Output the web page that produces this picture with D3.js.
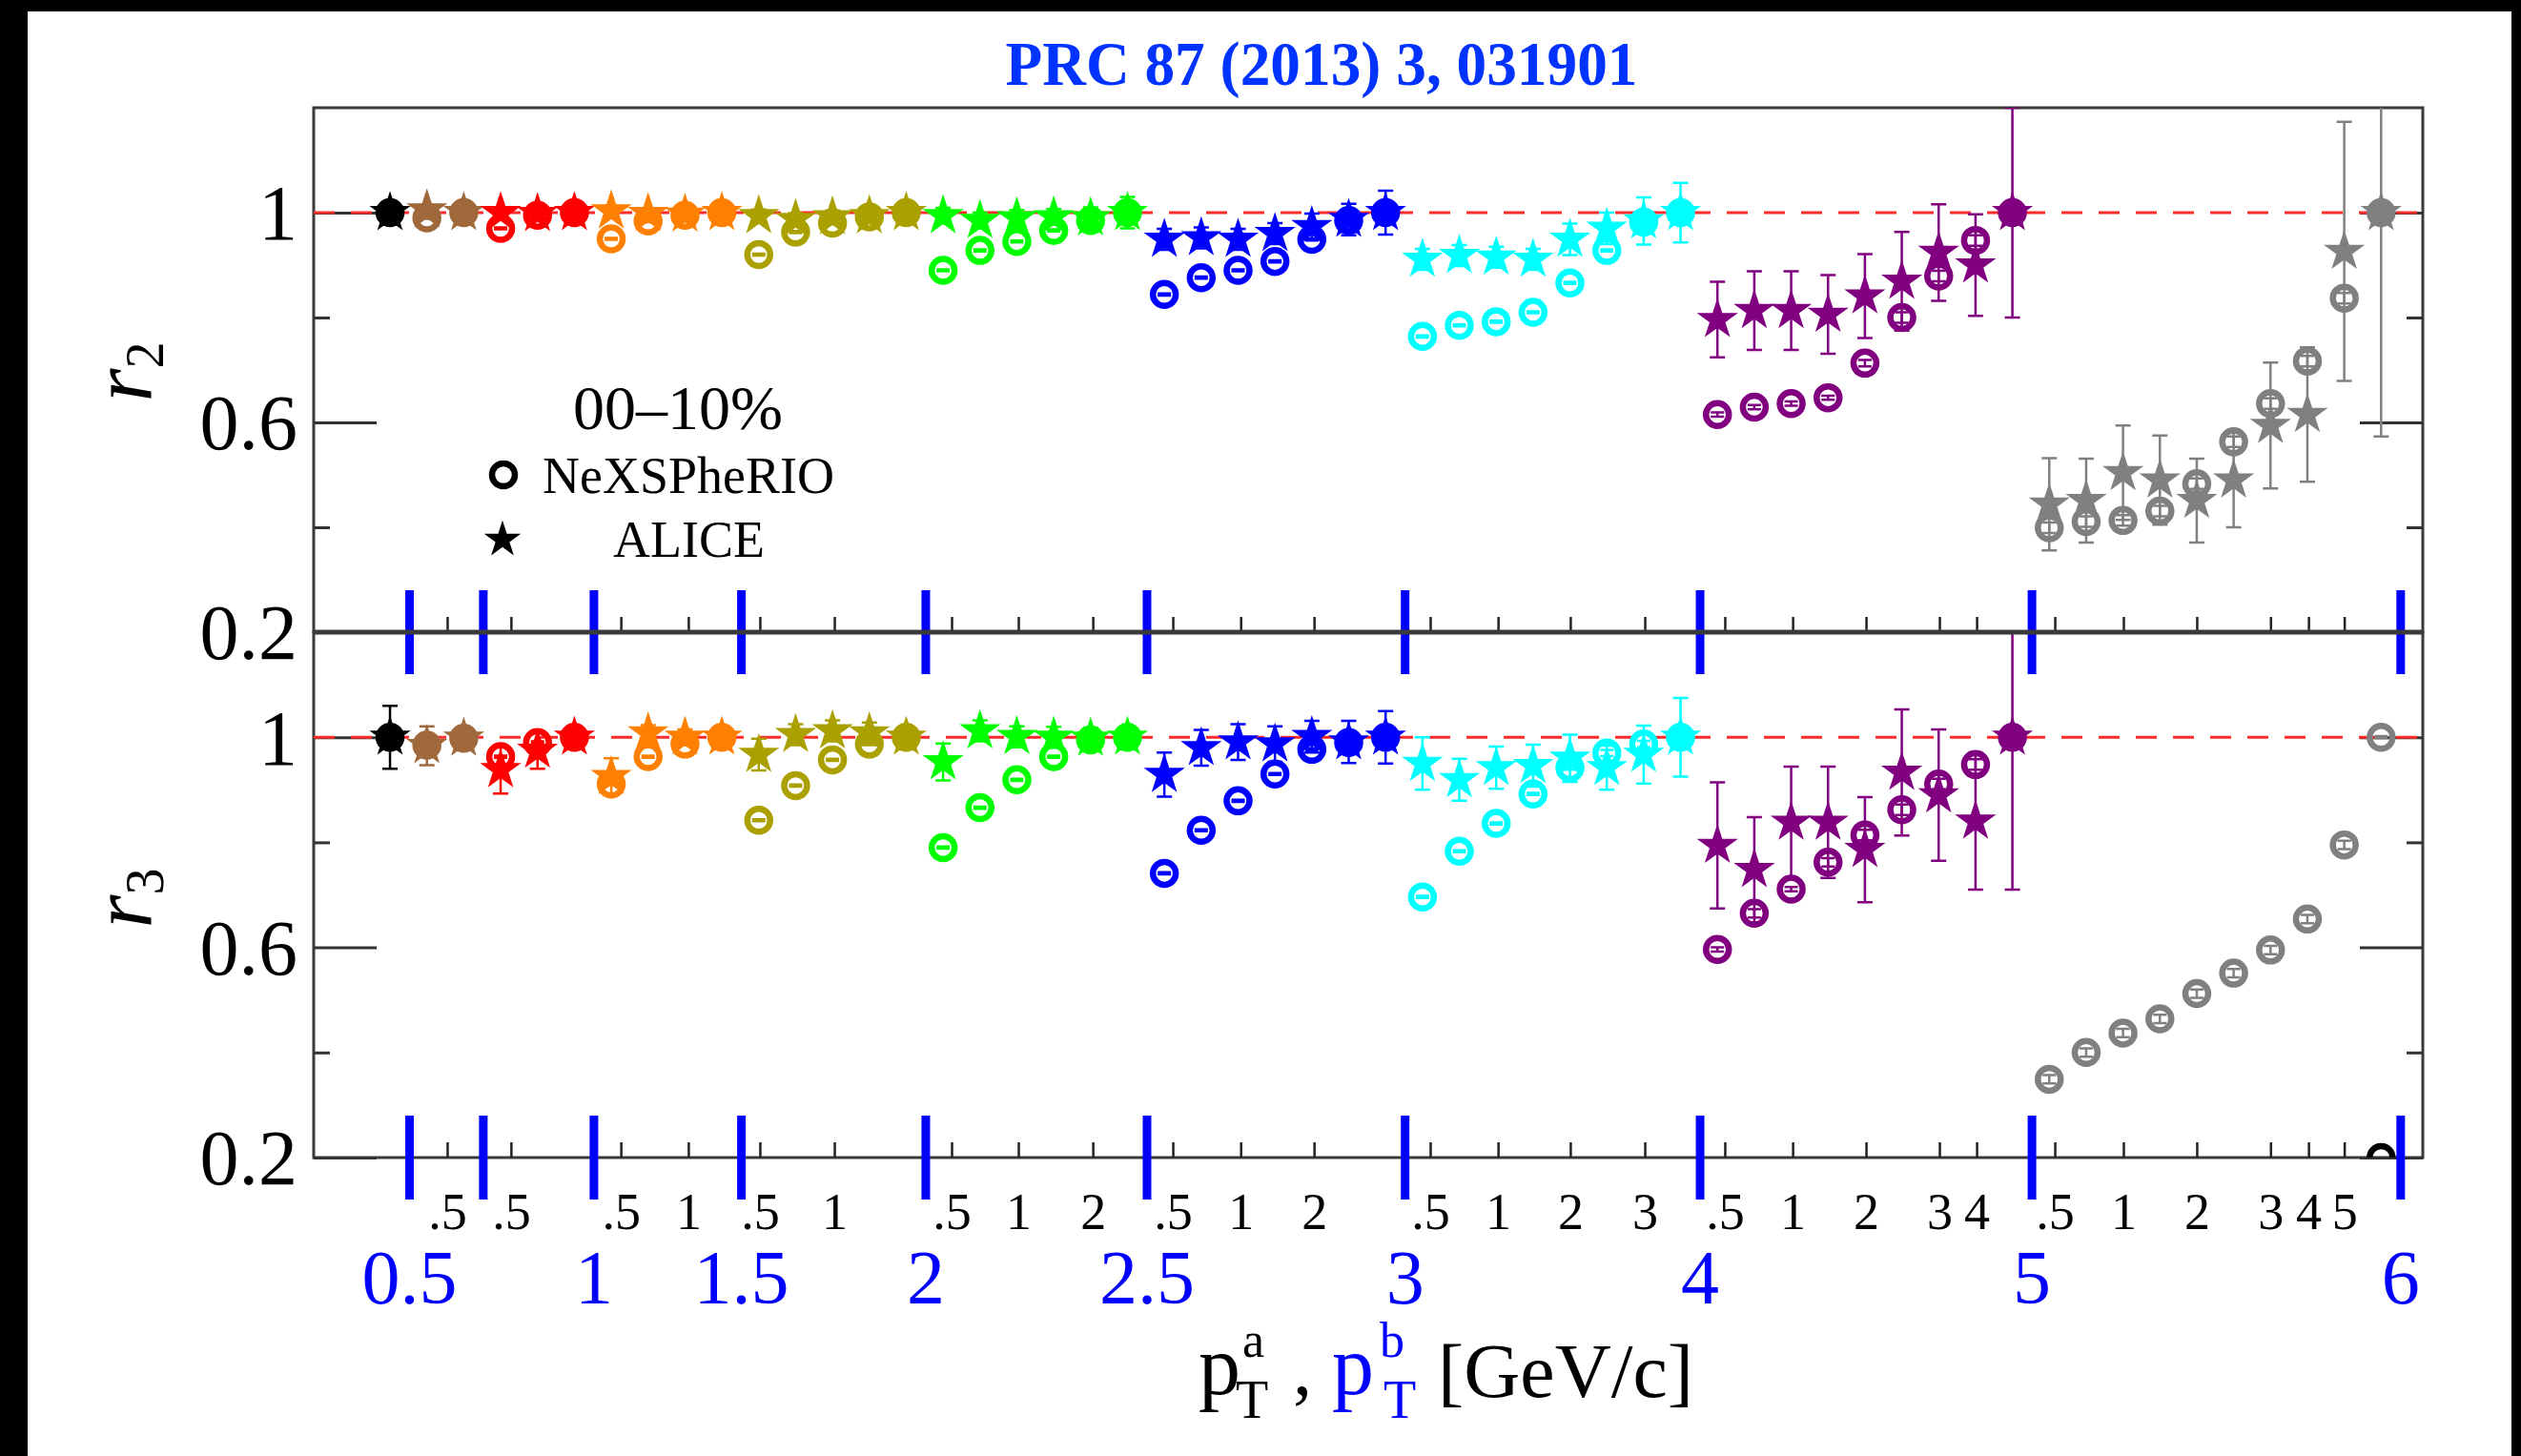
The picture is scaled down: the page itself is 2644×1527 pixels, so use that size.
<!DOCTYPE html>
<html>
<head>
<meta charset="utf-8">
<script src="https://cdn.jsdelivr.net/npm/d3@7"></script>
<style>
  html, body { margin: 0; padding: 0; background: #fff; }
  svg { display: block; }
</style>
</head>
<body>
<div id="chart"></div>
<script>
// one colour group per p_T^b bin, group g holds g+1 points (the p_T^a bins up to p_T^b)
const groupColors = ["#000000", "#a0693c", "#ff0000", "#ff8000", "#aaa000", "#00ff00", "#0000ff", "#00ffff", "#800080", "#808080"];
const groupLabels = ["0.5", "", "1", "1.5", "2", "2.5", "3", "4", "5", "6"];

// r2 : NeXSPheRIO (open circles)
const r2Model = [1.0,
  0.99, 1.0,
  0.97, 0.995, 1.0,
  0.95, 0.984, 0.995, 1.0,
  0.92, 0.963, 0.98, 0.992, 1.0,
  0.89, 0.928, 0.945, 0.966, 0.985, 1.0,
  0.844, 0.876, 0.89, 0.907, 0.949, 0.985, 1.0,
  0.764, 0.785, 0.792, 0.81, 0.866, 0.928, 0.982, 1.0,
  0.615, 0.629, 0.636, 0.647, 0.713, 0.80, 0.879, 0.947, 1.0,
  0.399, 0.411, 0.413, 0.431, 0.483, 0.563, 0.636, 0.717, 0.837, 1.0];
const r2ModelErr = [0.002,
  0.002, 0.002,
  0.002, 0.002, 0.002,
  0.002, 0.002, 0.002, 0.002,
  0.002, 0.002, 0.002, 0.002, 0.002,
  0.002, 0.002, 0.002, 0.002, 0.002, 0.002,
  0.002, 0.002, 0.002, 0.002, 0.002, 0.002, 0.002,
  0.002, 0.002, 0.002, 0.002, 0.002, 0.002, 0.002, 0.002,
  0.004, 0.004, 0.004, 0.004, 0.006, 0.01, 0.01, 0.01, 0.01,
  0.01, 0.01, 0.01, 0.01, 0.01, 0.01, 0.01, 0.01, 0.01, 0.01];

// r2 : ALICE (stars)
const r2Alice = [1.0,
  1.005, 1.0,
  1.0, 0.998, 1.0,
  1.003, 0.998, 0.997, 1.0,
  0.994, 0.987, 0.992, 0.994, 1.0,
  0.994, 0.985, 0.99, 0.992, 0.99, 1.0,
  0.949, 0.952, 0.949, 0.96, 0.973, 0.987, 1.0,
  0.911, 0.918, 0.915, 0.911, 0.949, 0.97, 0.984, 1.0,
  0.796, 0.813, 0.813, 0.806, 0.841, 0.869, 0.924, 0.90, 1.0,
  0.444, 0.451, 0.504, 0.49, 0.451, 0.49, 0.594, 0.615, 0.926, 1.0];
const r2AliceErr = [0.01,
  0.01, 0.01,
  0.01, 0.01, 0.01,
  0.01, 0.01, 0.01, 0.01,
  0.012, 0.012, 0.012, 0.012, 0.015,
  0.015, 0.015, 0.015, 0.015, 0.02, 0.03,
  0.02, 0.02, 0.02, 0.02, 0.025, 0.03, 0.042,
  0.02, 0.02, 0.02, 0.02, 0.03, 0.03, 0.045, 0.057,
  0.072, 0.075, 0.075, 0.075, 0.08, 0.094, 0.092, 0.097, 0.2,
  0.088, 0.08, 0.09, 0.085, 0.08, 0.09, 0.12, 0.128, 0.247, 0.427];

// r3 : NeXSPheRIO
const r3Model = [1.0,
  0.985, 0.998,
  0.963, 0.99, 1.0,
  0.911, 0.963, 0.987, 1.0,
  0.842, 0.908, 0.957, 0.987, 1.0,
  0.79, 0.866, 0.919, 0.963, 0.995, 1.0,
  0.741, 0.823, 0.879, 0.93, 0.977, 0.99, 1.0,
  0.696, 0.783, 0.836, 0.892, 0.942, 0.97, 0.987, 1.0,
  0.596, 0.665, 0.711, 0.762, 0.814, 0.862, 0.911, 0.948, 1.0,
  0.349, 0.40, 0.437, 0.464, 0.512, 0.551, 0.595, 0.654, 0.795, 1.0];
const r3ModelErr = [0.002,
  0.002, 0.002,
  0.002, 0.002, 0.002,
  0.002, 0.002, 0.002, 0.002,
  0.002, 0.002, 0.002, 0.002, 0.002,
  0.002, 0.002, 0.002, 0.002, 0.002, 0.002,
  0.002, 0.002, 0.002, 0.002, 0.002, 0.002, 0.002,
  0.002, 0.002, 0.002, 0.002, 0.004, 0.006, 0.006, 0.002,
  0.004, 0.008, 0.004, 0.008, 0.01, 0.01, 0.01, 0.01, 0.002,
  0.008, 0.008, 0.008, 0.008, 0.008, 0.008, 0.008, 0.008, 0.008, 0.002];

// r3 : ALICE (no data in the last bin)
const r3Alice = [1.0,
  0.984, 0.998,
  0.938, 0.975, 1.0,
  0.925, 1.008, 1.0, 1.0,
  0.967, 1.005, 1.012, 1.008, 1.0,
  0.953, 1.012, 1.001, 1.0, 0.998, 1.0,
  0.929, 0.98, 0.991, 0.987, 1.001, 0.991, 1.0,
  0.95, 0.919, 0.942, 0.946, 0.96, 0.942, 0.967, 1.0,
  0.794, 0.748, 0.838, 0.838, 0.786, 0.933, 0.89, 0.84, 1.0,
  null, null, null, null, null, null, null, null, null, null];
const r3AliceErr = [0.06,
  0.037, 0.017,
  0.045, 0.035, 0.01,
  0.035, 0.015, 0.015, 0.01,
  0.03, 0.02, 0.02, 0.02, 0.015,
  0.035, 0.02, 0.02, 0.02, 0.02, 0.02,
  0.042, 0.034, 0.034, 0.034, 0.03, 0.04, 0.05,
  0.05, 0.04, 0.04, 0.04, 0.045, 0.042, 0.055, 0.075,
  0.12, 0.1, 0.106, 0.106, 0.1, 0.12, 0.125, 0.13, 0.29,
  null, null, null, null, null, null, null, null, null, null];

// stray black marker sitting on the lower edge of the r3 panel
const r3StrayIdx = [54];
const r3StrayVal = [0.2];

// p_T^a ticks, in point-index units, with their labels
const aTickPos = [1.55, 3.28, 6.26, 8.09, 10.03, 12.05, 15.23, 17.04, 19.06, 21.23, 23.07, 25.06,
  28.21, 30.05, 32.01, 34.03, 36.2, 38.04, 40.03, 42.02, 43.03, 45.15, 47.01, 49.0, 51.0, 52.03, 53.0];
const aTickLabels = [".5", ".5", ".5", "1", ".5", "1", ".5", "1", "2", ".5", "1", "2",
  ".5", "1", "2", "3", ".5", "1", "2", "3", "4", ".5", "1", "2", "3", "4", "5"];

const yTicks = [0.2, 0.6, 1];
const yMinorTicks = [0.4, 0.8];

const W = 2644, H = 1527;
const left = 329, right = 2541;
const serif = "'Liberation Serif', 'Times New Roman', serif";

// flatten the groups into one index axis
const points = [];
groupColors.forEach((c, g) => {
  for (let k = 0; k <= g; k++) points.push({ i: points.length, g });
});
const groupEnds = groupColors.map((c, g) => d3.max(points.filter(p => p.g === g), p => p.i));

const x = d3.scaleLinear().domain([-2.07, 55.13]).range([left, right]);

const svg = d3.select("#chart").append("svg")
  .attr("width", W).attr("height", H)
  .attr("viewBox", [0, 0, W, H])
  .style("font-family", serif);

svg.append("rect").attr("width", W).attr("height", H).attr("fill", "#fff");
// black page edges
svg.append("rect").attr("x", 0).attr("y", 0).attr("width", 29).attr("height", H).attr("fill", "#000");
svg.append("rect").attr("x", 0).attr("y", 0).attr("width", W).attr("height", 12).attr("fill", "#000");
svg.append("rect").attr("x", 2634).attr("y", 0).attr("width", 10).attr("height", H).attr("fill", "#000");

const panels = [
  { top: 113, bottom: 663, model: r2Model, modelErr: r2ModelErr, data: r2Alice, dataErr: r2AliceErr, n: "2", titleY: 390, xLabels: false },
  { top: 663, bottom: 1214, model: r3Model, modelErr: r3ModelErr, data: r3Alice, dataErr: r3AliceErr, n: "3", titleY: 942, xLabels: true }
];

const star = d3.symbol().type(d3.symbolStar).size(580);
const ringR = 12;
const ringW = 6.5;

panels.forEach((p, pi) => {
  const y = d3.scaleLinear().domain([0.2, 1.2]).range([p.bottom, p.top]);
  const clipId = "clip" + pi;
  svg.append("clipPath").attr("id", clipId)
    .append("rect").attr("x", left).attr("y", p.top).attr("width", right - left).attr("height", p.bottom - p.top);

  const g = svg.append("g");

  // frame
  g.append("rect")
    .attr("x", left).attr("y", p.top)
    .attr("width", right - left).attr("height", p.bottom - p.top)
    .attr("fill", "none").attr("stroke", "#3a3a3a").attr("stroke-width", 3);

  // y axes, left with labels, right mirrored
  const yl = g.append("g").attr("transform", `translate(${left},0)`)
    .call(d3.axisLeft(y).tickValues(yTicks).tickSize(-66).tickPadding(17)
      .tickFormat(d => d === 1 ? "1" : d3.format(".1f")(d)));
  yl.select(".domain").remove();
  yl.selectAll(".tick line").attr("stroke", "#333").attr("stroke-width", 3);
  yl.selectAll("text").attr("font-size", 82).attr("font-family", serif).attr("fill", "#000").attr("dy", "0.34em");

  const ylm = g.append("g").attr("transform", `translate(${left},0)`)
    .call(d3.axisLeft(y).tickValues(yMinorTicks).tickSize(-17).tickFormat(""));
  ylm.select(".domain").remove();
  ylm.selectAll(".tick line").attr("stroke", "#333").attr("stroke-width", 3);

  const yr = g.append("g").attr("transform", `translate(${right},0)`)
    .call(d3.axisRight(y).tickValues(yTicks).tickSize(-66).tickFormat(""));
  yr.select(".domain").remove();
  yr.selectAll(".tick line").attr("stroke", "#333").attr("stroke-width", 3);
  const yrm = g.append("g").attr("transform", `translate(${right},0)`)
    .call(d3.axisRight(y).tickValues(yMinorTicks).tickSize(-17).tickFormat(""));
  yrm.select(".domain").remove();
  yrm.selectAll(".tick line").attr("stroke", "#333").attr("stroke-width", 3);

  // p_T^a ticks on the lower edge
  const xa = g.append("g").attr("transform", `translate(0,${p.bottom})`)
    .call(d3.axisBottom(x).tickValues(aTickPos).tickSize(-16).tickPadding(37)
      .tickFormat(d => p.xLabels ? aTickLabels[aTickPos.indexOf(d)] : ""));
  xa.select(".domain").remove();
  xa.selectAll(".tick line").attr("stroke", "#222").attr("stroke-width", 2.5);
  xa.selectAll("text").attr("font-size", 54).attr("font-family", serif).attr("fill", "#000");

  // y title
  const yt = g.append("text")
    .attr("transform", `translate(158,${p.titleY}) rotate(-90)`)
    .attr("text-anchor", "middle")
    .attr("fill", "#000");
  yt.append("tspan").attr("font-size", 90).attr("font-style", "italic").text("r");
  yt.append("tspan").attr("font-size", 56).attr("dy", 13).text(p.n);

  // data layer
  const d = g.append("g").attr("clip-path", `url(#${clipId})`);

  d.append("line")
    .attr("x1", left).attr("x2", right)
    .attr("y1", y(1)).attr("y2", y(1))
    .attr("stroke", "#ff2a2a").attr("stroke-width", 3)
    .attr("stroke-dasharray", "22 17");

  // model: open rings with their tiny error bars inside
  const mg = d.append("g").selectAll("g")
    .data(points)
    .join("g")
      .attr("stroke", q => groupColors[q.g]);
  mg.append("circle")
    .attr("cx", q => x(q.i)).attr("cy", q => y(p.model[q.i]))
    .attr("r", ringR).attr("fill", "none").attr("stroke-width", ringW);
  mg.append("path")
    .attr("fill", "none").attr("stroke-width", 2.5)
    .attr("d", q => {
      const cx = x(q.i), y0 = y(p.model[q.i] + p.modelErr[q.i]), y1 = y(p.model[q.i] - p.modelErr[q.i]);
      return `M${cx},${y0}V${y1}M${cx - 7},${y0}H${cx + 7}M${cx - 7},${y1}H${cx + 7}`;
    });

  // ALICE: error bars + filled stars
  const aliceData = points.filter(q => p.data[q.i] != null);
  const ag = d.append("g").selectAll("g")
    .data(aliceData)
    .join("g");
  ag.append("path")
    .attr("fill", "none").attr("stroke", q => groupColors[q.g]).attr("stroke-width", 2.5)
    .attr("d", q => {
      const cx = x(q.i), y0 = y(p.data[q.i] + p.dataErr[q.i]), y1 = y(p.data[q.i] - p.dataErr[q.i]);
      return `M${cx},${y0}V${y1}M${cx - 8},${y0}H${cx + 8}M${cx - 8},${y1}H${cx + 8}`;
    });
  ag.append("path")
    .attr("transform", q => `translate(${x(q.i)},${y(p.data[q.i])})`)
    .attr("d", star)
    .attr("fill", q => groupColors[q.g]);

  if (pi === 1) {
    d.append("g").selectAll("circle")
      .data(r3StrayIdx)
      .join("circle")
        .attr("cx", (v, k) => x(v)).attr("cy", (v, k) => y(r3StrayVal[k]))
        .attr("r", ringR).attr("fill", "none").attr("stroke", "#000").attr("stroke-width", ringW);
  }

  // p_T^b bin edges
  g.append("g").selectAll("rect")
    .data(groupEnds)
    .join("rect")
      .attr("x", e => x(e + 0.53) - 4.5)
      .attr("y", p.bottom - 44)
      .attr("width", 9).attr("height", 88)
      .attr("fill", "#0000ff");
});

// shared border between the panels
svg.append("line").attr("x1", left).attr("x2", right).attr("y1", 663).attr("y2", 663)
  .attr("stroke", "#3a3a3a").attr("stroke-width", 5);

// p_T^b labels
svg.append("g").selectAll("text")
  .data(groupEnds)
  .join("text")
    .attr("x", e => x(e + 0.53))
    .attr("y", 1367)
    .attr("text-anchor", "middle")
    .attr("font-size", 80)
    .attr("fill", "#0000ff")
    .text((e, k) => groupLabels[k]);

// title
svg.append("text")
  .attr("x", 1386).attr("y", 89)
  .attr("text-anchor", "middle")
  .attr("font-size", 66).attr("font-weight", "bold")
  .attr("fill", "#0033ff")
  .attr("textLength", 663).attr("lengthAdjust", "spacingAndGlyphs")
  .text("PRC 87 (2013) 3, 031901");

// legend
svg.append("text").attr("x", 711).attr("y", 450).attr("text-anchor", "middle")
  .attr("font-size", 66).attr("fill", "#000").text("00–10%");
svg.append("circle").attr("cx", 528).attr("cy", 498).attr("r", ringR)
  .attr("fill", "none").attr("stroke", "#000").attr("stroke-width", ringW);
svg.append("text").attr("x", 569).attr("y", 517).attr("font-size", 54).attr("fill", "#000").text("NeXSPheRIO");
svg.append("path").attr("transform", "translate(527,566)")
  .attr("d", d3.symbol().type(d3.symbolStar).size(460)).attr("fill", "#000");
svg.append("text").attr("x", 643).attr("y", 584).attr("font-size", 54).attr("fill", "#000").text("ALICE");

// x title: p_T^a , p_T^b [GeV/c]
const xt = svg.append("g").attr("fill", "#000");
xt.append("text").attr("x", 1257).attr("y", 1462).attr("font-size", 88).text("p");
xt.append("text").attr("x", 1303).attr("y", 1423).attr("font-size", 52).text("a");
xt.append("text").attr("x", 1296).attr("y", 1487).attr("font-size", 56).text("T");
xt.append("text").attr("x", 1356).attr("y", 1462).attr("font-size", 80).text(",");
xt.append("text").attr("x", 1397).attr("y", 1462).attr("font-size", 88).attr("fill", "#0000ff").text("p");
xt.append("text").attr("x", 1447).attr("y", 1423).attr("font-size", 52).attr("fill", "#0000ff").text("b");
xt.append("text").attr("x", 1451).attr("y", 1487).attr("font-size", 56).attr("fill", "#0000ff").text("T");
xt.append("text").attr("x", 1508).attr("y", 1465).attr("font-size", 80)
  .attr("textLength", 268).attr("lengthAdjust", "spacingAndGlyphs").text("[GeV/c]");
</script>
</body>
</html>
